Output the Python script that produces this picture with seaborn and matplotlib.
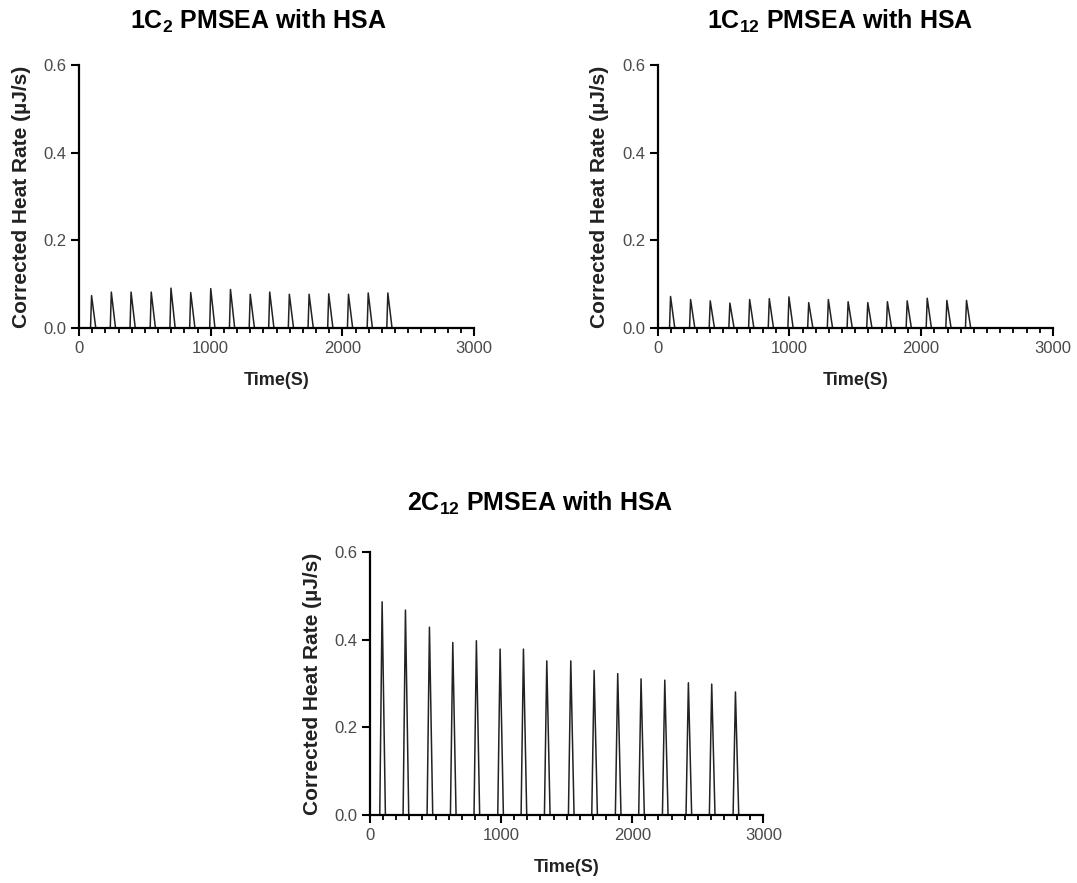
#!/usr/bin/env python3
"""
Module to plot ITC thermograms (corrected heat rate vs time) for three PMSEA samples
"""
import pandas as pd
import seaborn as sns
import matplotlib.pyplot as plt
from matplotlib.ticker import MultipleLocator

# peak times (s) and peak heights (uJ/s)
times_1c2 = [95, 245, 395, 548, 698, 848, 1000, 1150, 1300, 1448, 1597, 1747, 1896, 2046, 2196, 2345]
heights_1c2 = [0.074, 0.082, 0.082, 0.082, 0.091, 0.081, 0.090, 0.088,
               0.077, 0.082, 0.077, 0.077, 0.078, 0.077, 0.080, 0.080]

times_1c12 = [99, 251, 400, 549, 699, 848, 997, 1147, 1296, 1446, 1595, 1744, 1894, 2046, 2195, 2344]
heights_1c12 = [0.072, 0.065, 0.062, 0.057, 0.065, 0.067, 0.071, 0.058,
                0.065, 0.060, 0.058, 0.060, 0.062, 0.068, 0.063, 0.063]

times_2c12 = [92, 270, 453, 631, 811, 992, 1170, 1348, 1531, 1709, 1889, 2067, 2248, 2428, 2606, 2787]
heights_2c12 = [0.487, 0.468, 0.429, 0.394, 0.398, 0.379, 0.379, 0.352,
                0.352, 0.330, 0.323, 0.311, 0.308, 0.302, 0.299, 0.281]

# rise / decay of each injection peak (s)
rise_top, fall_top = 8, 32
rise_bottom, fall_bottom = 18, 25

panels = [
    (r"1C$_{2}$ PMSEA with HSA", times_1c2, heights_1c2, rise_top, fall_top),
    (r"1C$_{12}$ PMSEA with HSA", times_1c12, heights_1c12, rise_top, fall_top),
    (r"2C$_{12}$ PMSEA with HSA", times_2c12, heights_2c12, rise_bottom, fall_bottom),
]


def trace_frame(times, heights, rise, fall):
    """Baseline / peak / baseline points for each injection."""
    t = [0]
    q = [0.0]
    for tp, hp in zip(times, heights):
        t += [tp - rise, tp, tp + fall]
        q += [0.0, hp, 0.0]
    t.append(times[-1] + fall + 40)
    q.append(0.0)
    return pd.DataFrame({"Time(S)": t, "rate": q})


sns.set_style("ticks")
plt.rcParams['font.family'] = ['Liberation Sans', 'DejaVu Sans']
plt.rcParams['mathtext.fontset'] = 'custom'
plt.rcParams['mathtext.rm'] = 'Liberation Sans:bold'
plt.rcParams['mathtext.it'] = 'Liberation Sans:bold'
plt.rcParams['mathtext.bf'] = 'Liberation Sans:bold'

fig = plt.figure(figsize=(10.77, 8.83), dpi=100)

# axes rectangles (figure fraction) and title anchors
rects = [
    [0.0734, 0.6285, 0.3668, 0.2979],
    [0.6105, 0.6285, 0.3672, 0.2979],
    [0.3436, 0.0770, 0.3652, 0.2975],
]
title_pos = [(258 / 1077, 1 - 21 / 883), (840 / 1077, 1 - 21 / 883), (540 / 1077, 1 - 503 / 883)]

for (title, times, heights, rise, fall), rect, tpos in zip(panels, rects, title_pos):
    ax = fig.add_axes(rect)
    df = trace_frame(times, heights, rise, fall)
    sns.lineplot(data=df, x="Time(S)", y="rate", ax=ax, color="#222222",
                 linewidth=1.1, estimator=None, errorbar=None)

    ax.set_xlim(0, 3000)
    ax.set_ylim(0, 0.6)
    ax.xaxis.set_major_locator(MultipleLocator(1000))
    ax.xaxis.set_minor_locator(MultipleLocator(100))
    ax.yaxis.set_major_locator(MultipleLocator(0.2))
    ax.yaxis.set_major_formatter(plt.FormatStrFormatter('%.1f'))

    for side in ['top', 'right']:
        ax.spines[side].set_visible(False)
    for side in ['left', 'bottom']:
        ax.spines[side].set_linewidth(1.6)
        ax.spines[side].set_color('black')

    ax.tick_params(axis='both', which='major', direction='out', length=6,
                   width=1.5, labelsize=12, labelcolor='#4a4a4a', color='black', pad=3)
    ax.tick_params(axis='x', which='minor', direction='out', length=3.5, width=1.3, color='black')

    ax.set_xlabel("Time(S)", fontsize=13, fontweight='bold', color='#222222', labelpad=12)
    ax.set_ylabel("Corrected Heat Rate (\u00b5J/s)", fontsize=15, fontweight='bold',
                  color='#222222', labelpad=9)

    fig.text(tpos[0], tpos[1], title, ha='center', va='center',
             fontsize=18, fontweight='bold', color='black')

plt.savefig("out.png", dpi=100)
